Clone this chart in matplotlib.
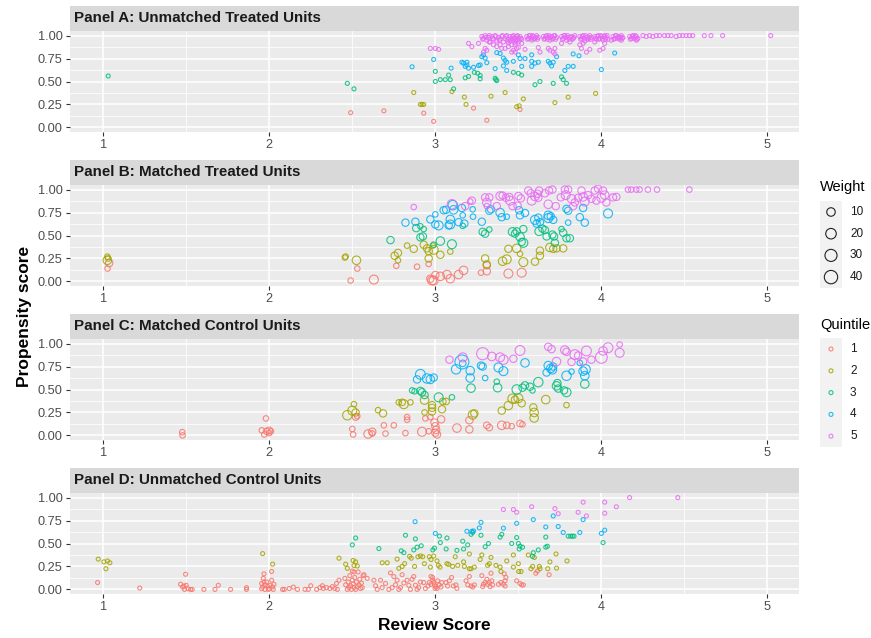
import numpy as np
import matplotlib.pyplot as plt
from matplotlib.patches import Rectangle

plt.rcParams['font.family'] = ['Liberation Sans', 'DejaVu Sans']

quintile_colors = ['#F8766D', '#A3A500', '#00BF7D', '#00B0F6', '#E76BF3']
panel_titles = ['Panel A: Unmatched Treated Units',
                'Panel B: Matched Treated Units',
                'Panel C: Matched Control Units',
                'Panel D: Unmatched Control Units']
x_ticks = [1, 2, 3, 4, 5]
y_ticks = [0, 0.25, 0.5, 0.75, 1.0]
y_tick_labels = ['0.00', '0.25', '0.50', '0.75', '1.00']
weight_breaks = [10, 20, 30, 40]

# (review score, propensity score) per quintile; panels A and D are unweighted
a_q1 = [(2.49, 0.16), (2.69, 0.18), (2.93, 0.155), (2.99, 0.066), (3.23, 0.21), (3.31, 0.078), (3.51, 0.195)]
a_q2 = [(2.87, 0.38), (2.91, 0.25), (2.92, 0.25), (2.93, 0.25), (3.10, 0.39), (3.175, 0.33), (3.185, 0.25),
        (3.335, 0.34), (3.42, 0.38), (3.49, 0.225), (3.505, 0.235), (3.53, 0.31), (3.72, 0.27), (3.80, 0.33),
        (3.965, 0.37)]
a_q3 = [(1.03, 0.56), (2.47, 0.48), (2.51, 0.42), (3.0, 0.61), (3.0, 0.50), (3.03, 0.52), (3.06, 0.52),
        (3.08, 0.57), (3.09, 0.52), (3.11, 0.42), (3.18, 0.54), (3.20, 0.555), (3.235, 0.60), (3.255, 0.59),
        (3.27, 0.565), (3.27, 0.53), (3.36, 0.535), (3.37, 0.51), (3.365, 0.52), (3.47, 0.60), (3.50, 0.59),
        (3.52, 0.57), (3.60, 0.465), (3.63, 0.50), (3.71, 0.48), (3.76, 0.55), (3.77, 0.52), (3.79, 0.48)]
a_q4 = [(2.86, 0.66), (2.99, 0.74), (3.095, 0.645), (3.16, 0.71), (3.17, 0.70), (3.19, 0.71), (3.19, 0.68),
        (3.18, 0.665), (3.20, 0.645), (3.23, 0.655), (3.26, 0.675), (3.28, 0.77), (3.29, 0.79), (3.30, 0.755),
        (3.31, 0.705), (3.27, 0.68), (3.36, 0.64), (3.37, 0.815), (3.39, 0.805), (3.41, 0.755), (3.42, 0.73),
        (3.43, 0.71), (3.43, 0.62), (3.41, 0.67), (3.47, 0.72), (3.50, 0.79), (3.51, 0.75), (3.52, 0.665),
        (3.54, 0.75), (3.58, 0.79), (3.58, 0.72), (3.60, 0.70), (3.62, 0.71), (3.58, 0.665), (3.68, 0.72),
        (3.69, 0.70), (3.71, 0.71), (3.70, 0.67), (3.73, 0.77), (3.78, 0.62), (3.80, 0.665), (3.83, 0.665),
        (3.83, 0.80), (3.865, 0.78), (4.0, 0.63), (4.08, 0.81)]
a_q5 = [(2.97, 0.86), (3.0, 0.86), (3.02, 0.85), (3.20, 0.915), (3.22, 0.88), (3.26, 0.915), (3.29, 0.82),
        (3.30, 0.86), (3.31, 0.84), (3.325, 0.93), (3.37, 0.88), (3.39, 0.90), (3.40, 0.86), (3.42, 0.86),
        (3.44, 0.88), (3.46, 0.82), (3.47, 0.84), (3.48, 0.90), (3.48, 0.82), (3.49, 0.86), (3.52, 0.915),
        (3.54, 0.85), (3.62, 0.87), (3.63, 0.82), (3.68, 0.86), (3.69, 0.84), (3.71, 0.82), (3.72, 0.86),
        (3.72, 0.80), (3.76, 0.915), (3.87, 0.90), (3.88, 0.86), (3.91, 0.82), (3.93, 0.85), (3.89, 0.915),
        (3.96, 0.93), (3.99, 0.84), (4.01, 0.86), (4.02, 0.915), (4.06, 0.95), (4.12, 0.95), (4.21, 0.95),
        (3.35, 0.90), (3.50, 0.87),
        (3.28, 0.99), (3.29, 0.97), (3.30, 1.00), (3.31, 0.95), (3.32, 0.98), (3.33, 0.93), (3.34, 0.99),
        (3.35, 0.96), (3.36, 1.00), (3.37, 0.94), (3.38, 0.98), (3.39, 0.96), (3.40, 0.99), (3.41, 0.93),
        (3.42, 0.97), (3.43, 1.00), (3.44, 0.96), (3.44, 0.92), (3.45, 0.99), (3.45, 0.94), (3.46, 0.97),
        (3.46, 0.90), (3.47, 1.00), (3.47, 0.95), (3.48, 0.98), (3.48, 0.92), (3.49, 0.99), (3.49, 0.95),
        (3.50, 0.97), (3.50, 0.93), (3.51, 0.99), (3.52, 0.96), (3.55, 0.99), (3.56, 0.97), (3.57, 1.00),
        (3.58, 0.98), (3.58, 0.95), (3.59, 0.99), (3.60, 0.97), (3.61, 1.00), (3.62, 0.98), (3.65, 0.99),
        (3.66, 0.97), (3.67, 1.00), (3.68, 0.98), (3.69, 0.95), (3.70, 0.99), (3.71, 0.97), (3.72, 1.00),
        (3.73, 0.98), (3.76, 0.99), (3.77, 0.97), (3.78, 1.00), (3.79, 0.95), (3.80, 0.98), (3.81, 0.93),
        (3.82, 0.99), (3.83, 0.97), (3.84, 1.00), (3.87, 0.99), (3.88, 0.97), (3.89, 1.00), (3.90, 0.94),
        (3.91, 0.98), (3.92, 0.96), (3.93, 1.00), (3.94, 0.98), (3.96, 0.99), (3.97, 0.96), (3.98, 1.00),
        (3.99, 0.97), (4.00, 0.99), (4.01, 0.95), (4.02, 1.00), (4.03, 0.98), (4.04, 0.96), (4.07, 0.99),
        (4.08, 0.97), (4.09, 1.00), (4.10, 0.98), (4.11, 0.96), (4.12, 1.00), (4.13, 0.98), (4.17, 0.99),
        (4.18, 0.97), (4.19, 1.00), (4.20, 0.98), (4.21, 0.99), (4.22, 0.97), (4.25, 1.00), (4.27, 0.99),
        (4.29, 1.00), (4.31, 0.99), (4.33, 1.00), (4.35, 1.00), (4.38, 1.00), (4.40, 1.00), (4.42, 1.00),
        (4.45, 0.99), (4.47, 1.00), (4.49, 1.00), (4.51, 1.00), (4.53, 1.00), (4.55, 1.00), (4.62, 1.00),
        (4.66, 1.00), (4.73, 1.00), (5.02, 1.00),
        (3.285, 0.96), (3.305, 0.98), (3.325, 1.00), (3.345, 0.97), (3.365, 0.99), (3.385, 0.95), (3.405, 1.00),
        (3.425, 0.99), (3.435, 0.94), (3.455, 0.96), (3.465, 0.99), (3.475, 0.97), (3.485, 0.94), (3.495, 1.00),
        (3.505, 0.95), (3.515, 0.97), (3.555, 0.96), (3.565, 1.00), (3.575, 0.97), (3.585, 1.00), (3.595, 0.96),
        (3.605, 0.98), (3.615, 0.96), (3.655, 0.96), (3.665, 0.99), (3.675, 0.96), (3.685, 1.00), (3.695, 0.98),
        (3.705, 0.96), (3.715, 1.00), (3.725, 0.96), (3.765, 0.96), (3.775, 1.00), (3.785, 0.98), (3.795, 1.00),
        (3.805, 0.96), (3.815, 0.98), (3.825, 0.96), (3.835, 0.98), (3.875, 0.96), (3.885, 0.99), (3.895, 0.97),
        (3.905, 1.00), (3.915, 0.96), (3.925, 0.98), (3.935, 0.96), (3.965, 0.97), (3.975, 0.99), (3.985, 0.96),
        (3.995, 1.00), (4.005, 0.97), (4.015, 0.99), (4.025, 0.96), (4.035, 1.00), (4.075, 0.96), (4.085, 1.00),
        (4.095, 0.97), (4.105, 0.99), (4.115, 0.98), (4.125, 0.97), (4.175, 0.96), (4.185, 0.99), (4.195, 0.97),
        (4.205, 1.00), (4.215, 0.96)]

# matched panels carry a weight: (review score, propensity score, weight)
b_q1 = [(1.036, 0.20, 6), (1.026, 0.14, 2), (2.53, 0.14, 2), (2.49, 0.01, 2), (2.63, 0.02, 12), (2.765, 0.17, 2),
        (2.89, 0.16, 2), (2.96, 0.19, 2), (2.97, 0.03, 6), (2.98, 0.01, 12), (2.99, 0.01, 12), (3.0, 0.07, 6),
        (3.03, 0.055, 10), (3.07, 0.075, 10), (3.09, 0.03, 10), (3.14, 0.075, 10), (3.17, 0.12, 10),
        (3.275, 0.095, 2), (3.31, 0.11, 6), (3.31, 0.175, 6), (3.44, 0.085, 12), (3.52, 0.095, 12)]
b_q2 = [(1.025, 0.27, 2), (1.025, 0.23, 10), (1.03, 0.25, 2), (2.455, 0.26, 2), (2.46, 0.27, 2), (2.525, 0.23, 10),
        (2.755, 0.28, 6), (2.775, 0.31, 6), (2.775, 0.23, 2), (2.83, 0.39, 2), (2.87, 0.355, 6), (2.93, 0.40, 6),
        (2.95, 0.36, 6), (2.96, 0.33, 6), (2.99, 0.345, 12), (2.985, 0.39, 2), (3.03, 0.29, 6), (2.96, 0.25, 6),
        (3.09, 0.325, 2), (3.30, 0.25, 6), (3.31, 0.185, 6), (3.405, 0.22, 10), (3.43, 0.24, 12), (3.44, 0.355, 6),
        (3.49, 0.36, 10), (3.51, 0.30, 2), (3.53, 0.21, 12), (3.60, 0.215, 6), (3.63, 0.335, 6), (3.63, 0.28, 6),
        (3.69, 0.37, 10), (3.71, 0.355, 6), (3.73, 0.36, 6), (3.77, 0.36, 6)]
b_q3 = [(2.73, 0.45, 6), (2.885, 0.58, 6), (2.91, 0.60, 2), (2.93, 0.57, 2), (2.91, 0.48, 6), (2.925, 0.49, 6),
        (2.99, 0.40, 2), (3.03, 0.44, 10), (3.10, 0.405, 12), (3.165, 0.605, 2), (3.285, 0.54, 6), (3.30, 0.52, 6),
        (3.325, 0.565, 2), (3.465, 0.54, 10), (3.48, 0.52, 6), (3.49, 0.545, 6), (3.51, 0.485, 10), (3.52, 0.43, 6),
        (3.53, 0.57, 6), (3.53, 0.42, 12), (3.625, 0.545, 10), (3.645, 0.575, 6), (3.66, 0.56, 6), (3.67, 0.49, 6),
        (3.705, 0.51, 6), (3.715, 0.49, 6), (3.72, 0.42, 6), (3.76, 0.57, 2), (3.77, 0.53, 6), (3.79, 0.47, 6),
        (3.81, 0.47, 6)]
b_q4 = [(2.82, 0.64, 6), (2.88, 0.65, 6), (2.97, 0.675, 6), (3.0, 0.62, 6), (3.02, 0.61, 12), (3.0, 0.73, 2),
        (3.05, 0.775, 6), (3.065, 0.78, 6), (3.105, 0.83, 14), (3.11, 0.78, 10), (3.08, 0.61, 6), (3.09, 0.675, 10),
        (3.09, 0.62, 12), (3.14, 0.645, 6), (3.16, 0.80, 6), (3.165, 0.72, 2), (3.175, 0.63, 6), (3.225, 0.785, 2),
        (3.227, 0.705, 2), (3.28, 0.65, 6), (3.325, 0.77, 6), (3.335, 0.785, 6), (3.39, 0.75, 10), (3.40, 0.70, 6),
        (3.43, 0.705, 2), (3.505, 0.775, 6), (3.51, 0.72, 6), (3.54, 0.745, 6), (3.60, 0.67, 12), (3.62, 0.695, 6),
        (3.61, 0.63, 6), (3.63, 0.645, 6), (3.68, 0.72, 10), (3.68, 0.69, 12), (3.695, 0.71, 6), (3.71, 0.67, 6),
        (3.80, 0.77, 6), (3.80, 0.64, 2), (3.79, 0.79, 6), (3.87, 0.70, 6), (3.90, 0.64, 6), (3.89, 0.80, 6),
        (4.04, 0.74, 12)]
b_q5 = [(2.87, 0.81, 2), (3.10, 0.84, 14), (3.18, 0.82, 6), (3.21, 0.87, 2), (3.22, 0.88, 6), (3.30, 0.915, 6),
        (3.31, 0.86, 10), (3.325, 0.915, 6), (3.31, 0.82, 2), (3.37, 0.82, 6), (3.39, 0.93, 10), (3.405, 0.935, 6),
        (3.425, 0.91, 6), (3.445, 0.92, 6), (3.45, 0.88, 12), (3.465, 0.82, 6), (3.495, 0.825, 6), (3.50, 0.93, 6),
        (3.515, 0.905, 6), (3.56, 0.99, 6), (3.575, 0.96, 6), (3.58, 0.88, 12), (3.60, 0.925, 10), (3.615, 0.955, 6),
        (3.62, 0.91, 6), (3.625, 0.99, 6), (3.66, 0.96, 6), (3.685, 0.99, 6), (3.705, 1.0, 6), (3.68, 0.84, 10),
        (3.725, 0.82, 6), (3.755, 0.915, 6), (3.78, 1.0, 6), (3.80, 1.0, 6), (3.785, 0.94, 12), (3.82, 0.90, 10),
        (3.83, 0.82, 6), (3.84, 0.86, 6), (3.86, 0.91, 6), (3.88, 0.99, 6), (3.89, 0.92, 10), (3.90, 0.87, 12),
        (3.92, 0.94, 6), (3.94, 0.90, 6), (3.96, 0.99, 6), (3.97, 0.88, 6), (3.98, 1.01, 6), (4.0, 0.91, 12),
        (4.01, 0.99, 6), (4.02, 0.94, 10), (4.03, 0.86, 6), (4.07, 0.915, 6), (4.09, 0.92, 6), (4.16, 1.0, 2),
        (4.18, 1.0, 2), (4.21, 1.0, 2), (4.23, 1.0, 2), (4.28, 1.0, 2), (4.335, 1.0, 2), (4.53, 1.0, 2)]

c_q1 = [(1.476, 0.035, 2), (1.478, 0.0, 2), (1.98, 0.185, 2), (1.955, 0.055, 2), (1.97, 0.01, 2), (1.985, 0.045, 4),
        (2.0, 0.055, 4), (2.01, 0.045, 2), (2.0, 0.025, 2), (2.52, 0.20, 4), (2.53, 0.21, 2), (2.50, 0.07, 2),
        (2.505, 0.01, 2), (2.595, 0.015, 10), (2.62, 0.04, 6), (2.62, 0.02, 2), (2.69, 0.11, 2), (2.70, 0.02, 2),
        (2.75, 0.11, 2), (2.83, 0.20, 2), (2.83, 0.17, 2), (2.82, 0.025, 2), (2.92, 0.04, 12), (2.94, 0.185, 2),
        (2.97, 0.20, 2), (2.995, 0.14, 6), (3.0, 0.10, 6), (3.005, 0.06, 6), (3.0, 0.03, 6), (3.01, 0.01, 6),
        (2.96, 0.045, 2), (3.035, 0.175, 6), (3.13, 0.08, 10), (3.205, 0.165, 6), (3.205, 0.065, 6), (3.31, 0.11, 4),
        (3.325, 0.085, 4), (3.40, 0.11, 10), (3.43, 0.11, 4), (3.46, 0.10, 2), (3.51, 0.13, 4), (3.525, 0.12, 2)]
c_q2 = [(2.47, 0.22, 14), (2.50, 0.27, 12), (2.52, 0.25, 6), (2.51, 0.34, 2), (2.655, 0.275, 2), (2.685, 0.24, 6),
        (2.78, 0.36, 2), (2.81, 0.34, 12), (2.80, 0.36, 4), (2.85, 0.36, 2), (2.935, 0.385, 10), (2.98, 0.33, 6),
        (2.98, 0.30, 6), (2.98, 0.26, 6), (2.935, 0.25, 2), (3.04, 0.285, 6), (3.065, 0.37, 4), (3.045, 0.37, 4),
        (3.225, 0.225, 12), (3.235, 0.24, 6), (3.40, 0.27, 6), (3.44, 0.325, 10), (3.465, 0.40, 14), (3.48, 0.39, 6),
        (3.50, 0.405, 12), (3.52, 0.35, 6), (3.59, 0.305, 6), (3.595, 0.25, 10), (3.595, 0.19, 10), (3.665, 0.39, 10),
        (3.79, 0.33, 2)]
c_q3 = [(2.86, 0.49, 2), (2.875, 0.48, 2), (2.91, 0.485, 6), (2.92, 0.47, 6), (2.935, 0.44, 6), (3.02, 0.415, 12),
        (3.10, 0.415, 2), (3.215, 0.515, 10), (3.37, 0.585, 2), (3.375, 0.52, 10), (3.49, 0.50, 14), (3.525, 0.52, 6),
        (3.54, 0.545, 6), (3.57, 0.53, 6), (3.585, 0.49, 2), (3.62, 0.58, 14), (3.73, 0.54, 10), (3.735, 0.57, 6),
        (3.74, 0.51, 6), (3.775, 0.49, 6), (3.79, 0.47, 12), (3.90, 0.56, 10)]
c_q4 = [(2.89, 0.61, 6), (2.91, 0.665, 16), (2.95, 0.62, 14), (2.97, 0.61, 10), (2.99, 0.63, 6), (3.125, 0.72, 14),
        (3.165, 0.785, 4), (3.16, 0.80, 45), (3.21, 0.705, 10), (3.21, 0.625, 10), (3.275, 0.76, 6), (3.285, 0.75, 6),
        (3.30, 0.625, 2), (3.38, 0.74, 12), (3.41, 0.70, 12), (3.54, 0.79, 10), (3.67, 0.685, 6), (3.68, 0.76, 10),
        (3.695, 0.73, 10), (3.705, 0.715, 10), (3.71, 0.75, 6), (3.79, 0.65, 14), (3.82, 0.695, 2), (3.87, 0.79, 2),
        (3.89, 0.70, 10), (3.905, 0.72, 14), (3.90, 0.65, 10)]
c_q5 = [(3.085, 0.825, 6), (3.165, 0.85, 12), (3.285, 0.89, 30), (3.34, 0.86, 10), (3.39, 0.85, 12),
        (3.41, 0.825, 14), (3.47, 0.835, 6), (3.51, 0.925, 16), (3.68, 0.965, 6), (3.70, 0.94, 6), (3.73, 0.805, 10),
        (3.78, 0.93, 10), (3.79, 0.91, 6), (3.84, 0.88, 16), (3.82, 0.80, 6), (3.89, 0.805, 6), (3.91, 0.92, 16),
        (3.86, 0.87, 6), (3.94, 0.825, 6), (4.0, 0.85, 28), (4.01, 0.92, 10), (4.04, 0.955, 16), (4.11, 0.99, 2),
        (4.11, 0.90, 12)]

d_q1 = [(0.966, 0.075), (1.22, 0.015), (1.496, 0.165), (1.466, 0.056), (1.478, 0.026), (1.49, 0.0), (1.50, 0.045),
        (1.51, 0.008), (1.526, 0.0), (1.536, 0.0), (1.486, 0.037), (1.606, 0.0), (1.673, 0.0), (1.693, 0.045),
        (1.767, 0.0), (1.863, 0.019), (1.863, 0.0), (1.968, 0.17), (1.964, 0.12), (1.954, 0.064), (1.974, 0.045),
        (1.984, 0.082), (2.0, 0.008), (2.014, 0.10), (2.02, 0.026), (2.004, 0.045), (1.994, 0.0), (2.024, 0.0),
        (1.974, 0.0), (1.954, 0.008), (2.014, 0.195), (1.96, 0.026), (1.99, 0.034), (2.028, 0.056), (1.968, 0.08),
        (2.08, 0.0), (2.09, 0.0), (2.12, 0.01), (2.145, 0.025), (2.17, 0.0), (2.215, 0.0), (2.235, 0.0), (2.25, 0.04),
        (2.285, 0.0), (2.305, 0.02), (2.32, 0.04), (2.325, 0.01), (2.345, 0.02), (2.365, 0.01), (2.38, 0.03),
        (2.395, 0.01), (2.405, 0.065), (2.41, 0.0), (2.42, 0.10), (2.455, 0.12), (2.46, 0.05), (2.47, 0.0),
        (2.475, 0.08), (2.48, 0.02), (2.485, 0.15), (2.49, 0.04), (2.495, 0.0), (2.50, 0.10), (2.505, 0.06),
        (2.51, 0.02), (2.515, 0.13), (2.52, 0.0), (2.525, 0.08), (2.53, 0.03), (2.535, 0.19), (2.54, 0.05),
        (2.545, 0.11), (2.55, 0.01), (2.555, 0.07), (2.56, 0.02), (2.565, 0.15), (2.50, 0.20), (2.51, 0.19),
        (2.57, 0.16), (2.59, 0.12), (2.63, 0.10), (2.64, 0.04), (2.65, 0.0), (2.67, 0.10), (2.68, 0.02), (2.70, 0.064),
        (2.72, 0.0), (2.73, 0.18), (2.74, 0.02), (2.75, 0.14), (2.76, 0.05), (2.77, 0.10), (2.78, 0.0), (2.79, 0.02),
        (2.80, 0.16), (2.81, 0.07), (2.83, 0.10), (2.84, 0.045), (2.85, 0.0), (2.86, 0.11), (2.87, 0.14),
        (2.88, 0.045), (2.89, 0.0), (2.90, 0.02), (2.91, 0.08), (2.93, 0.075), (2.94, 0.01), (2.955, 0.037),
        (2.964, 0.075), (2.974, 0.056), (2.974, 0.14), (2.984, 0.10), (2.984, 0.13), (2.99, 0.075), (2.994, 0.049),
        (2.998, 0.011), (3.004, 0.03), (3.01, 0.011), (3.014, 0.094), (3.024, 0.049), (3.034, 0.026), (3.038, 0.075),
        (3.064, 0.075), (3.074, 0.037), (3.084, 0.094), (3.098, 0.13), (3.108, 0.037), (3.124, 0.049), (3.13, 0.011),
        (3.185, 0.094), (3.195, 0.049), (3.205, 0.14), (3.215, 0.037), (3.225, 0.026), (3.235, 0.049), (3.28, 0.15),
        (3.285, 0.03), (3.29, 0.056), (3.30, 0.075), (3.31, 0.11), (3.315, 0.056), (3.325, 0.075), (3.33, 0.03),
        (3.335, 0.176), (3.34, 0.094), (3.345, 0.049), (3.38, 0.056), (3.395, 0.075), (3.41, 0.056), (3.42, 0.037),
        (3.415, 0.17), (3.425, 0.13), (3.42, 0.094), (3.49, 0.094), (3.51, 0.064), (3.52, 0.049), (3.53, 0.049),
        (3.605, 0.176), (3.615, 0.20), (3.685, 0.16)]
d_q2 = [(0.97, 0.33), (1.004, 0.30), (1.016, 0.225), (1.026, 0.31), (1.04, 0.29), (1.96, 0.39), (2.02, 0.275),
        (2.42, 0.34), (2.46, 0.275), (2.47, 0.23), (2.505, 0.315), (2.51, 0.26), (2.52, 0.30), (2.53, 0.255),
        (2.68, 0.29), (2.71, 0.29), (2.77, 0.33), (2.78, 0.23), (2.80, 0.25), (2.815, 0.28), (2.845, 0.36),
        (2.855, 0.34), (2.875, 0.25), (2.895, 0.355), (2.91, 0.365), (2.924, 0.356), (2.934, 0.28), (2.964, 0.356),
        (2.974, 0.326), (2.99, 0.363), (3.01, 0.31), (3.018, 0.262), (3.028, 0.243), (2.97, 0.243), (3.07, 0.28),
        (3.08, 0.273), (3.104, 0.25), (3.12, 0.356), (3.135, 0.262), (3.17, 0.30), (3.175, 0.25), (3.205, 0.386),
        (3.205, 0.225), (3.215, 0.225), (3.235, 0.243), (3.27, 0.326), (3.28, 0.375), (3.315, 0.262), (3.325, 0.28),
        (3.335, 0.348), (3.365, 0.262), (3.39, 0.243), (3.395, 0.195), (3.43, 0.31), (3.47, 0.375), (3.47, 0.243),
        (3.50, 0.28), (3.502, 0.195), (3.516, 0.195), (3.56, 0.375), (3.576, 0.225), (3.586, 0.25), (3.596, 0.348),
        (3.626, 0.25), (3.63, 0.225), (3.677, 0.225), (3.69, 0.30), (3.727, 0.386), (3.73, 0.232), (3.793, 0.31)]
d_q3 = [(2.50, 0.485), (2.52, 0.56), (2.66, 0.445), (2.795, 0.42), (2.81, 0.40), (2.82, 0.59), (2.87, 0.43),
        (2.88, 0.55), (2.89, 0.46), (2.915, 0.475), (2.985, 0.43), (2.995, 0.45), (3.025, 0.58), (3.03, 0.51),
        (3.07, 0.56), (3.065, 0.44), (3.13, 0.425), (3.165, 0.525), (3.17, 0.44), (3.195, 0.485), (3.215, 0.60),
        (3.225, 0.62), (3.275, 0.59), (3.30, 0.465), (3.32, 0.50), (3.39, 0.57), (3.40, 0.60), (3.46, 0.50),
        (3.49, 0.565), (3.50, 0.50), (3.51, 0.47), (3.525, 0.46), (3.505, 0.44), (3.59, 0.40), (3.585, 0.36),
        (3.62, 0.43), (3.665, 0.46), (3.675, 0.47), (3.665, 0.57), (3.80, 0.58), (3.815, 0.58), (3.825, 0.58),
        (3.835, 0.58), (4.01, 0.51)]
d_q4 = [(2.878, 0.738), (3.0, 0.61), (3.19, 0.633), (3.22, 0.633), (3.23, 0.637), (3.265, 0.67), (3.275, 0.73),
        (3.41, 0.667), (3.49, 0.72), (3.59, 0.76), (3.665, 0.68), (3.74, 0.685), (3.71, 0.80), (3.77, 0.62),
        (3.87, 0.62), (3.89, 0.76), (4.0, 0.61), (4.02, 0.645)]
d_q5 = [(3.41, 0.87), (3.47, 0.87), (3.49, 0.84), (3.58, 0.90), (3.72, 0.88), (3.74, 0.825), (3.86, 0.84),
        (3.89, 0.95), (3.91, 0.80), (4.02, 0.95), (4.02, 0.83), (4.09, 0.90), (4.17, 1.0), (4.46, 1.0)]

panels = [[a_q1, a_q2, a_q3, a_q4, a_q5],
          [b_q1, b_q2, b_q3, b_q4, b_q5],
          [c_q1, c_q2, c_q3, c_q4, c_q5],
          [d_q1, d_q2, d_q3, d_q4, d_q5]]


def point_size(w):
    # circle area grows linearly with weight (diameter in pixels -> points^2)
    d = 4.0 + 10.5 * np.sqrt((np.asarray(w, dtype=float) - 1) / 49.0)
    return (d * 0.72) ** 2


W, H = 871, 638
fig = plt.figure(figsize=(W / 100, H / 100), dpi=100)

left, right = 70, 799
strip_h, panel_h, step = 25, 101, 154

for i, groups in enumerate(panels):
    top = 6 + i * step
    sax = fig.add_axes([left / W, 1 - (top + strip_h) / H, (right - left) / W, strip_h / H])
    sax.set_facecolor('#D9D9D9')
    sax.set_xticks([])
    sax.set_yticks([])
    for s in sax.spines.values():
        s.set_visible(False)
    sax.text(0.005, 0.5, panel_titles[i], transform=sax.transAxes, ha='left', va='center',
             fontsize=10.9, fontweight='bold', color='#1A1A1A')

    ax = fig.add_axes([left / W, 1 - (top + strip_h + panel_h) / H, (right - left) / W, panel_h / H])
    ax.set_facecolor('#EBEBEB')
    for s in ax.spines.values():
        s.set_visible(False)
    ax.set_xlim(0.8, 5.19)
    ax.set_ylim(-0.05, 1.05)
    ax.set_xticks(x_ticks)
    ax.set_xticklabels([str(t) for t in x_ticks])
    ax.set_yticks(y_ticks)
    ax.set_yticklabels(y_tick_labels)
    ax.set_xticks([1.5, 2.5, 3.5, 4.5], minor=True)
    ax.set_yticks([0.125, 0.375, 0.625, 0.875], minor=True)
    ax.grid(which='major', color='white', linewidth=1.1)
    ax.grid(which='minor', color='white', linewidth=0.55)
    ax.set_axisbelow(True)
    ax.tick_params(which='major', length=2.8, width=0.8, color='#333333',
                   labelsize=9.2, labelcolor='#4D4D4D', pad=2.5)
    ax.tick_params(which='minor', length=0)

    for q, pts in enumerate(groups):
        xs = [p[0] for p in pts]
        ys = [p[1] for p in pts]
        ws = [p[2] if len(p) > 2 else 1 for p in pts]
        ax.scatter(xs, ys, s=point_size(ws), facecolors='none',
                   edgecolors=quintile_colors[q], linewidths=0.8, alpha=0.85, zorder=3)

fig.text(434 / W, 1 - 625 / H, 'Review Score', ha='center', va='center',
         fontsize=12.5, fontweight='bold')
fig.text(25 / W, 1 - 316 / H, 'Propensity score', ha='center', va='center',
         rotation=90, fontsize=12.5, fontweight='bold')

# legends, laid out in pixel coordinates
lax = fig.add_axes([0, 0, 1, 1])
lax.set_xlim(0, W)
lax.set_ylim(H, 0)
lax.axis('off')

lax.text(820, 187, 'Weight', ha='left', va='center', fontsize=10.5)
lax.add_patch(Rectangle((820, 201), 22, 87, facecolor='#F2F2F2', edgecolor='none'))
for k, wb in enumerate(weight_breaks):
    yk = 212 + k * 21.7
    lax.scatter([831], [yk], s=point_size(wb), facecolors='none', edgecolors='#222222', linewidths=0.8)
    lax.text(850, yk, str(wb), ha='left', va='center', fontsize=8.5, color='#1A1A1A')

lax.text(820, 325, 'Quintile', ha='left', va='center', fontsize=10.5)
lax.add_patch(Rectangle((820, 338), 22, 109, facecolor='#F2F2F2', edgecolor='none'))
for q in range(5):
    yq = 349 + q * 21.8
    lax.scatter([831], [yq], s=point_size(1), facecolors='none', edgecolors=quintile_colors[q],
                linewidths=0.8, alpha=0.85)
    lax.text(850, yq, str(q + 1), ha='left', va='center', fontsize=8.5, color='#1A1A1A')

fig.savefig('out.png', dpi=100)
